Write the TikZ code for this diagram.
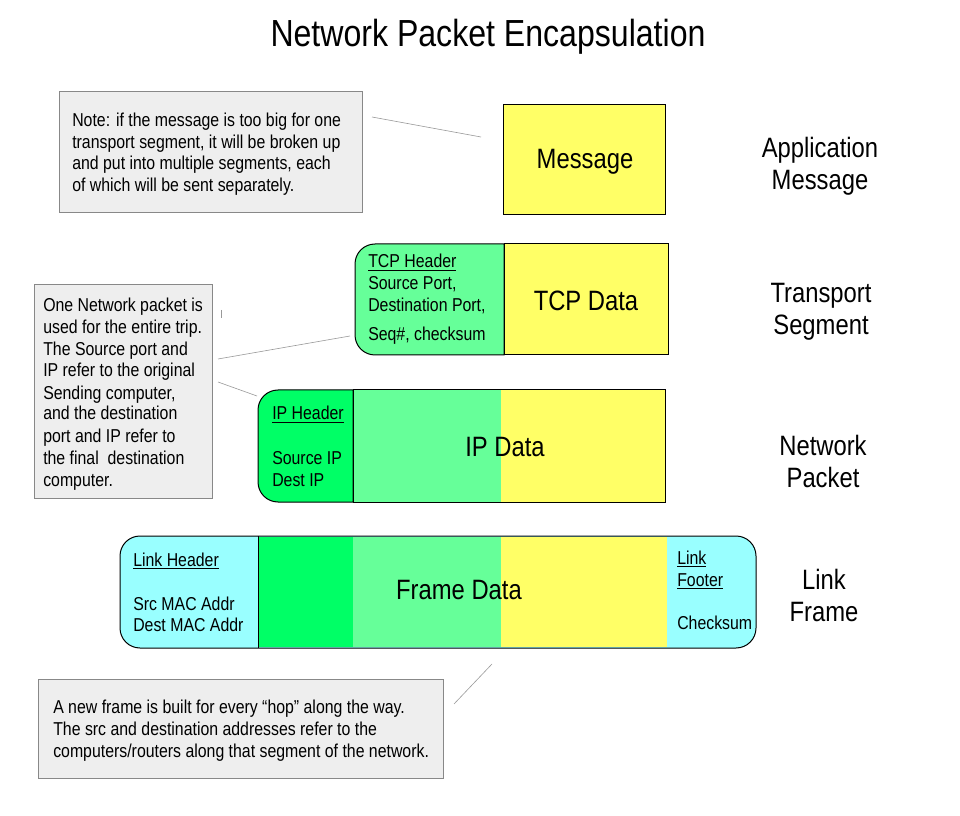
\documentclass[tikz,border=0pt]{standalone}
\usepackage{fontspec}
\setmainfont{Liberation Sans}[FakeStretch=0.85]
\definecolor{msgyellow}{HTML}{FFFF66}
\definecolor{lgreen}{HTML}{66FF99}
\definecolor{sgreen}{HTML}{00FF66}
\definecolor{lcyan}{HTML}{99FFFF}
\definecolor{notebg}{HTML}{EEEEEE}
\definecolor{noteedge}{HTML}{888888}
\definecolor{calloutgray}{HTML}{999999}
\begin{document}
\begin{tikzpicture}[x=0.75pt,y=-0.75pt,
  frame/.style={draw=black,line width=0.75pt},
  notebox/.style={draw=noteedge,fill=notebg,line width=0.75pt},
  callout/.style={draw=calloutgray,line width=0.45pt},
  small/.style={font=\fontsize{14}{16}\selectfont,anchor=base west,inner sep=0pt},
  big/.style={font=\fontsize{21}{24}\selectfont,inner sep=0pt},
  layer/.style={font=\fontsize{21}{24}\selectfont,align=center,inner sep=0pt},
  titlestyle/.style={font=\fontsize{28.3}{32}\selectfont,inner sep=0pt}]

\fill[white] (0,0) rectangle (960,816);
\useasboundingbox (0,0) rectangle (960,816);

\node[titlestyle] (title) at (488,37) {Network Packet Encapsulation};

% ---------- Application message ----------
\draw[frame,fill=msgyellow] (503,105) rectangle (665,215);
\node[big] (msg) at (585,162) {Message};
\node[layer] (lapp) at (820,166.5) {Application\\Message};

\draw[notebox] (59,92) rectangle (362,213);
\node[small] (n1a) at (72,127) {Note: if the message is too big for one};
\node[small] (n1b) at (72,149) {transport segment, it will be broken up};
\node[small] (n1c) at (72,170) {and put into multiple segments, each};
\node[small] (n1d) at (72,192) {of which will be sent separately.};
\coordinate (c1a) at (372,117);
\coordinate (c1b) at (481,137);
\draw[callout] (c1a) -- (c1b);

% ---------- Transport segment ----------
\draw[frame,fill=lgreen] (504,244) -- (375,244)
  arc[start angle=90,end angle=180,radius=15pt] -- (355,335)
  arc[start angle=180,end angle=270,radius=15pt] -- (504,355) -- cycle;
\draw[frame,fill=msgyellow] (504,244) rectangle (668,355);
\node[small] (tcph) at (368,268) {\underline{TCP Header}};
\node[small] (tcp1) at (368,290) {Source Port,};
\node[small] (tcp2) at (368,312) {Destination Port,};
\node[small] (tcp3) at (368,341) {Seq\#, checksum};
\node[big] (tcpd) at (586,301) {TCP Data};
\node[layer] (ltr) at (821,312) {Transport\\Segment};

% ---------- Network packet ----------
\draw[frame,fill=sgreen] (353,390) -- (278,390)
  arc[start angle=90,end angle=180,radius=15pt] -- (258,482)
  arc[start angle=180,end angle=270,radius=15pt] -- (353,502) -- cycle;
\fill[lgreen] (353,390) rectangle (501,502);
\fill[msgyellow] (501,390) rectangle (665,502);
\draw[frame] (353,390) rectangle (665,502);
\node[small] (iph) at (272,420) {\underline{IP Header}};
\node[small] (ip1) at (272,464) {Source IP};
\node[small] (ip2) at (272,486) {Dest IP};
\node[big] (ipd) at (505,447) {IP Data};
\node[layer] (lnet) at (823,461) {Network\\Packet};

\draw[notebox] (34,285) rectangle (212,498);
\node[small] (n2a) at (43,312) {One Network packet is};
\node[small] (n2b) at (43,334) {used for the entire trip.};
\node[small] (n2c) at (43,356) {The Source port and};
\node[small] (n2d) at (43,377) {IP refer to the original};
\node[small] (n2e) at (43,399) {Sending computer,};
\node[small] (n2f) at (43,420) {and the destination};
\node[small] (n2g) at (43,442) {port and IP refer to};
\node[small] (n2h) at (43,464) {the final\ \ destination};
\node[small] (n2i) at (43,486) {computer.};
\coordinate (c2a) at (221,310);
\coordinate (c2b) at (221,318);
\coordinate (c3a) at (218,359);
\coordinate (c3b) at (350,336);
\coordinate (c4a) at (218,382);
\coordinate (c4b) at (257,396);
\draw[callout] (c2a) -- (c2b);
\draw[callout] (c3a) -- (c3b);
\draw[callout] (c4a) -- (c4b);

% ---------- Link frame ----------
\draw[frame,fill=lcyan,rounded corners=15pt] (120,536) rectangle (756,648);
\fill[sgreen] (258,537) rectangle (353,647);
\fill[lgreen] (353,537) rectangle (501,647);
\fill[msgyellow] (501,537) rectangle (667,647);
\draw[frame] (258,536) -- (258,648);
\node[small] (lh) at (133,566) {\underline{Link Header}};
\node[small] (lh1) at (133,610) {Src MAC Addr};
\node[small] (lh2) at (133,631) {Dest MAC Addr};
\node[small] (lf) at (677,564) {\underline{Link}};
\node[small] (lf1) at (677,586) {\underline{Footer}};
\node[small] (lf2) at (677,629) {Checksum};
\node[big] (fd) at (459,590) {Frame Data};
\node[layer] (llink) at (824,595) {Link\\Frame};

\draw[notebox] (38,679) rectangle (443,778);
\node[small] (n3a) at (53,713) {A new frame is built for every “hop” along the way.};
\node[small] (n3b) at (53,735) {The src and destination addresses refer to the};
\node[small] (n3c) at (53,757) {computers/routers along that segment of the network.};
\coordinate (c5a) at (454,704);
\coordinate (c5b) at (492,664);
\draw[callout] (c5a) -- (c5b);

\end{tikzpicture}
\end{document}
